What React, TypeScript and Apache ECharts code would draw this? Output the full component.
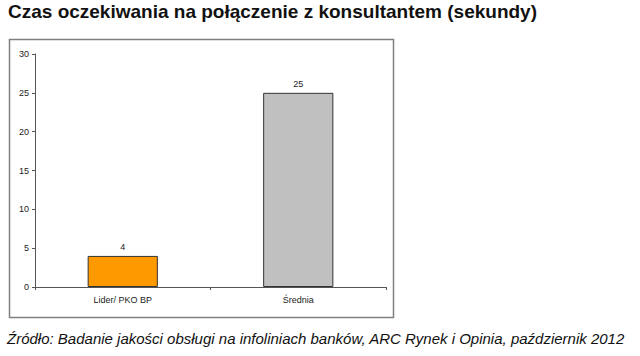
import React, { useEffect, useRef } from "react";
import * as echarts from "echarts";

const categories = ["Lider/ PKO BP", "Średnia"];
const values = [4, 25];
const barColors = ["#FF9900", "#C0C0C0"];
const titleText = "Czas oczekiwania na połączenie z konsultantem (sekundy)";
const sourceText = "Źródło: Badanie jakości obsługi na infoliniach banków, ARC Rynek i Opinia, październik 2012";

export default function App() {
  const ref = useRef<HTMLDivElement>(null);
  useEffect(() => {
    const chart = echarts.init(ref.current!, null, { renderer: "svg" });
    chart.setOption({
      animation: false,
      backgroundColor: "#ffffff",
      textStyle: { fontFamily: "Liberation Sans, Arial, sans-serif" },
      graphic: [
        {
          type: "text",
          left: 8,
          top: 2,
          style: { text: titleText, font: "bold 19px 'Liberation Sans', Arial", fill: "#111" },
        },
        {
          type: "rect",
          shape: { x: 9.5, y: 39.5, width: 384, height: 278 },
          style: { fill: "none", stroke: "#808080", lineWidth: 1.5 },
          z: -1,
        },
        {
          type: "text",
          left: 7,
          top: 331,
          style: { text: sourceText, font: "italic 15px 'Liberation Sans', Arial", fill: "#111" },
        },
      ],
      grid: { left: 35, top: 54, width: 351, height: 233, containLabel: false },
      xAxis: {
        type: "category",
        data: categories,
        axisLine: { lineStyle: { color: "#555", width: 1 } },
        axisTick: { show: true, alignWithLabel: false, lineStyle: { color: "#555" }, length: 3 },
        axisLabel: { color: "#222", fontSize: 9, margin: 8 },
      },
      yAxis: {
        type: "value",
        min: 0,
        max: 30,
        interval: 5,
        axisLine: { show: true, lineStyle: { color: "#555", width: 1 } },
        axisTick: { show: true, lineStyle: { color: "#555" }, length: 3 },
        axisLabel: { color: "#222", fontSize: 9, margin: 6 },
        splitLine: { show: false },
      },
      series: [
        {
          type: "bar",
          data: values.map((v, i) => ({
            value: v,
            itemStyle: { color: barColors[i], borderColor: "#333", borderWidth: 1 },
          })),
          barWidth: "40%",
          label: { show: true, position: "top", fontSize: 9, color: "#222", distance: 4 },
        },
      ],
    });
    return () => chart.dispose();
  }, []);
  return (
    <div
      ref={ref}
      style={{ position: "fixed", left: 0, top: 0, width: 640, height: 356 }}
    />
  );
}
